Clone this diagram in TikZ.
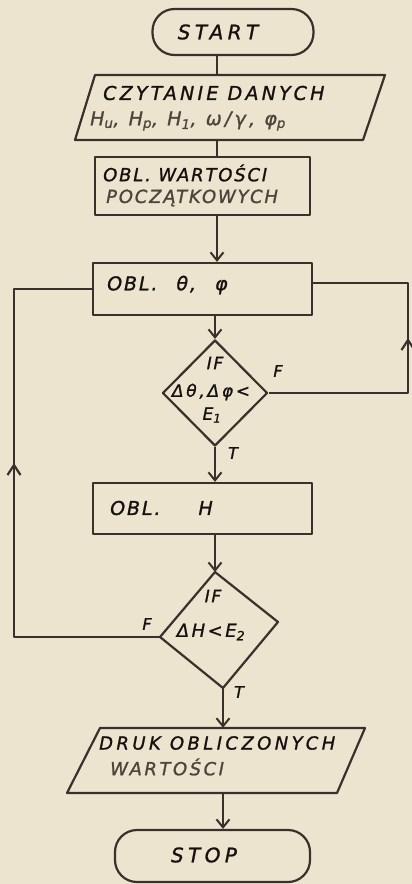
\documentclass[tikz,border=0pt]{standalone}
\usepackage{fontspec}
\newfontfamily\hand[LetterSpace=10,FakeBold=1.2]{DejaVu Sans}
\newcommand{\lsp}[1]{\addfontfeature{LetterSpace=#1}}
\usetikzlibrary{shapes.geometric,arrows.meta,decorations.markings}
\definecolor{paper}{RGB}{237,228,208}
\definecolor{ink}{RGB}{58,48,44}
\definecolor{txt}{RGB}{22,17,15}
\definecolor{pencil}{RGB}{78,68,60}
\tikzset{
  shapeline/.style={draw=ink, line width=2.2pt, line join=round},
  flow/.style={draw=ink, line width=2pt, line join=round},
  flowarrow/.style={flow, -{Straight Barb[length=8pt,width=13pt,line width=2pt]}},
  boxnode/.style={rectangle, shapeline, inner sep=0pt},
  termnode/.style={rectangle, rounded corners=22pt, shapeline, inner sep=0pt},
  dianode/.style={diamond, shapeline, inner sep=0pt},
  area/.style={rectangle, inner sep=0pt},
  txtnode/.style={inner sep=0pt, text=txt, font=\hand\itshape\fontsize{18}{20}\selectfont, anchor=west},
  pencilnode/.style={txtnode, text=pencil},
  ctext/.style={inner sep=0pt, text=txt, font=\hand\itshape\fontsize{20}{22}\selectfont},
  dtext/.style={inner sep=0pt, text=txt, font=\hand\itshape\fontsize{17}{19}\selectfont},
  lbl/.style={inner sep=0pt, text=txt, font=\hand\itshape\fontsize{16}{18}\selectfont},
  midup/.style={postaction=decorate, decoration={markings, mark=at position 0.5 with {\arrow{Straight Barb[length=10pt,width=13pt,line width=2.2pt]}}}}
}
\begin{document}
\begin{tikzpicture}[x=1pt,y=-1pt]
\fill[paper] (0,0) rectangle (412,884);
\useasboundingbox (0,0) rectangle (412,884);

% terminators
\node[termnode, minimum width=161pt, minimum height=46pt] (start) at (233,32) {};
\node[ctext] (starttxt) at (218,32) {\lsp{22}START};
\node[termnode, minimum width=195pt, minimum height=52pt] (stop) at (212.5,856) {};
\node[ctext] (stoptxt) at (204,855) {\lsp{22}STOP};

% input parallelogram
\draw[shapeline] (95,75) -- (385,75) -- (363,140) -- (75,140) -- cycle;
\node[area, minimum width=268pt, minimum height=65pt] (in1) at (230,107.5) {};
\node[txtnode, font=\hand\itshape\fontsize{19}{21}\selectfont\lsp{17}] (in1a) at (103,93) {CZYTANIE DANYCH};
\node[pencilnode, font=\hand\itshape\fontsize{19}{21}\selectfont\lsp{17}] (in1b) at (90,121) {H\textsubscript{u}, H\textsubscript{p}, H\textsubscript{1}, ω/γ, φ\textsubscript{p}};

% boxes
\node[boxnode, minimum width=215pt, minimum height=58pt] (box1) at (202.5,186) {};
\node[txtnode] (box1a) at (103,173) {OBL. WARTOŚCI};
\node[pencilnode] (box1b) at (106,198) {POCZĄTKOWYCH};

\node[boxnode, minimum width=219pt, minimum height=52pt] (box2) at (202.5,289) {};
\node[txtnode, font=\hand\itshape\fontsize{19}{21}\selectfont] (box2a) at (107,285) {OBL.\quad θ,\quad φ};

\node[boxnode, minimum width=219pt, minimum height=51pt] (boxH) at (202.5,508.5) {};
\node[txtnode, font=\hand\itshape\fontsize{19}{21}\selectfont] (boxHa) at (110,508) {OBL.\qquad H};

% decision 1
\node[dianode, minimum width=105pt, minimum height=106pt] (d1) at (215,393) {};
\node[dtext] (d1a) at (215,363) {IF};
\node[dtext, font=\hand\itshape\fontsize{17}{19}\selectfont\lsp{16}] (d1b) at (211,392) {Δθ,Δφ<};
\node[dtext] (d1c) at (212,415) {E\textsubscript{1}};

% decision 2 (hand-skewed)
\coordinate (d2n) at (215,572);
\coordinate (d2e) at (278,622);
\coordinate (d2s) at (223,688);
\coordinate (d2w) at (160,637);
\draw[shapeline] (d2n) -- (d2e) -- (d2s) -- (d2w) -- cycle;
\node[dtext] (d2a) at (213,596) {IF};
\node[dtext, font=\hand\itshape\fontsize{18}{20}\selectfont\lsp{14}] (d2b) at (211,632) {ΔH<E\textsubscript{2}};

% output parallelogram
\draw[shapeline] (100,728) -- (365,728) -- (337,793) -- (67,793) -- cycle;
\node[area, minimum width=268pt, minimum height=65pt] (out) at (217,760.5) {};
\node[txtnode, font=\hand\itshape\fontsize{18}{20}\selectfont\lsp{19}] (outa) at (99,743) {DRUK OBLICZONYCH};
\node[pencilnode, font=\hand\itshape\fontsize{18}{20}\selectfont\lsp{14}] (outb) at (110,767) {WARTOŚCI};

% branch labels
\node[lbl] (f1) at (278,371) {F};
\node[lbl] (t1) at (233,453) {T};
\node[lbl] (f2) at (147,624) {F};
\node[lbl] (t2) at (239,692) {T};

% spine connectors
\coordinate (spine) at (217,0);
\draw[flow] (start.south -| spine) -- (in1.north -| spine);
\draw[flow] (in1.south -| spine) -- (box1.north -| spine);
\draw[flowarrow] (box1.south -| spine) -- (box2.north -| spine);
\draw[flowarrow] (box2.south -| d1.north) -- (d1.north);
\draw[flowarrow] (d1.south) -- (d1.south |- boxH.north);
\draw[flowarrow] (boxH.south -| d2n) -- (d2n);
\draw[flowarrow] (d2s) -- (d2s |- out.north);
\draw[flowarrow] (d2s |- out.south) -- (d2s |- stop.north);

% loops
\coordinate (lx) at (14,0);
\coordinate (rx) at (408,0);
\draw[flow] (d2w) -- (d2w -| lx) -- (box2.west -| lx) -- (box2.west);
\draw[flow, midup] (d2w -| lx) -- (box2.west -| lx);
\draw[flow] (d1.east) -- (d1.east -| rx) -- ([yshift=6pt]box2.east -| rx) -- ([yshift=6pt]box2.east);
\draw[flow, midup] (d1.east -| rx) -- ([yshift=6pt]box2.east -| rx);
\end{tikzpicture}
\end{document}
